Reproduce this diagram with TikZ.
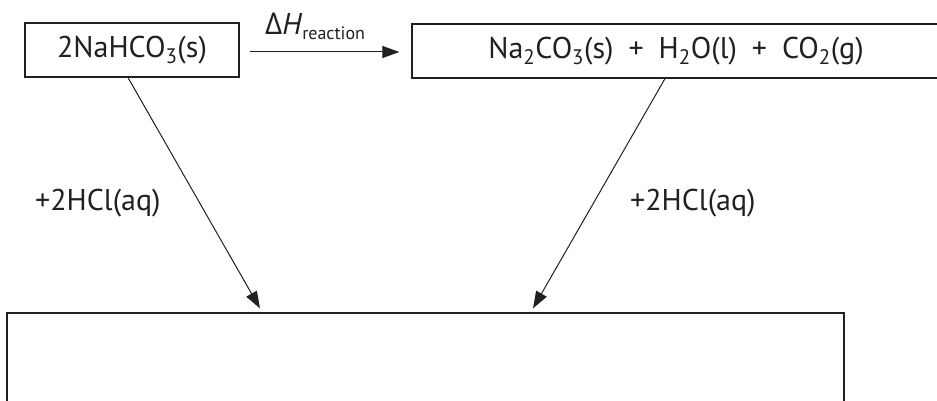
\documentclass[tikz,border=0pt]{standalone}
\usepackage{fontspec}
\setmainfont{PT Sans}
\newfontfamily\deltafont{Open Sans}
\usetikzlibrary{arrows.meta,positioning}
\definecolor{inkgray}{RGB}{35,31,32}
\newcommand{\sub}[1]{\textsubscript{#1}}

\begin{document}
\begin{tikzpicture}[x=1pt, y=-1pt,
    box/.style={rectangle, draw=inkgray, line width=1.2pt, inner sep=0pt, text=inkgray,
                font=\fontsize{30}{36}\selectfont, align=center},
    arr/.style={-{Triangle[length=17pt,width=12pt]}, line width=1pt, inkgray},
    tag/.style={inner sep=0pt, text=inkgray, font=\fontsize{30}{36}\selectfont}
]
\useasboundingbox (0,0) rectangle (937,401);
\clip (0,0) rectangle (937,401);

\node[box, minimum width=214pt, minimum height=54pt] (nahco) at (132,50)   {2NaHCO\sub{3}(s)};
\node[box, minimum width=528pt, minimum height=54pt] (prods) at (676,51)   {Na\sub{2}CO\sub{3}(s)\enspace+\enspace H\sub{2}O(l)\enspace+\enspace CO\sub{2}(g)};
\node[box, minimum width=837pt, minimum height=140pt] (hclsol) at (425.5,383) {};

\node[tag, anchor=base west] (dH)   at (265,35)  {{\deltafont Δ}\textit{H}\raisebox{-5pt}{\fontsize{18}{20}\selectfont reaction}};
\node[tag, anchor=base west] (hclL) at (35,210)  {+2HCl(aq)};
\node[tag, anchor=base west] (hclR) at (630,210) {+2HCl(aq)};

\draw[arr] ([xshift=10pt,yshift=-2pt]nahco.east) -- ([xshift=-12pt,yshift=-1pt]prods.west);
\draw[arr] ([xshift=-4pt]nahco.south) -- ([xshift=-165.5pt,yshift=4pt]hclsol.north);
\draw[arr] ([xshift=-11pt]prods.south) -- ([xshift=107.5pt,yshift=4pt]hclsol.north);
\end{tikzpicture}
\end{document}
